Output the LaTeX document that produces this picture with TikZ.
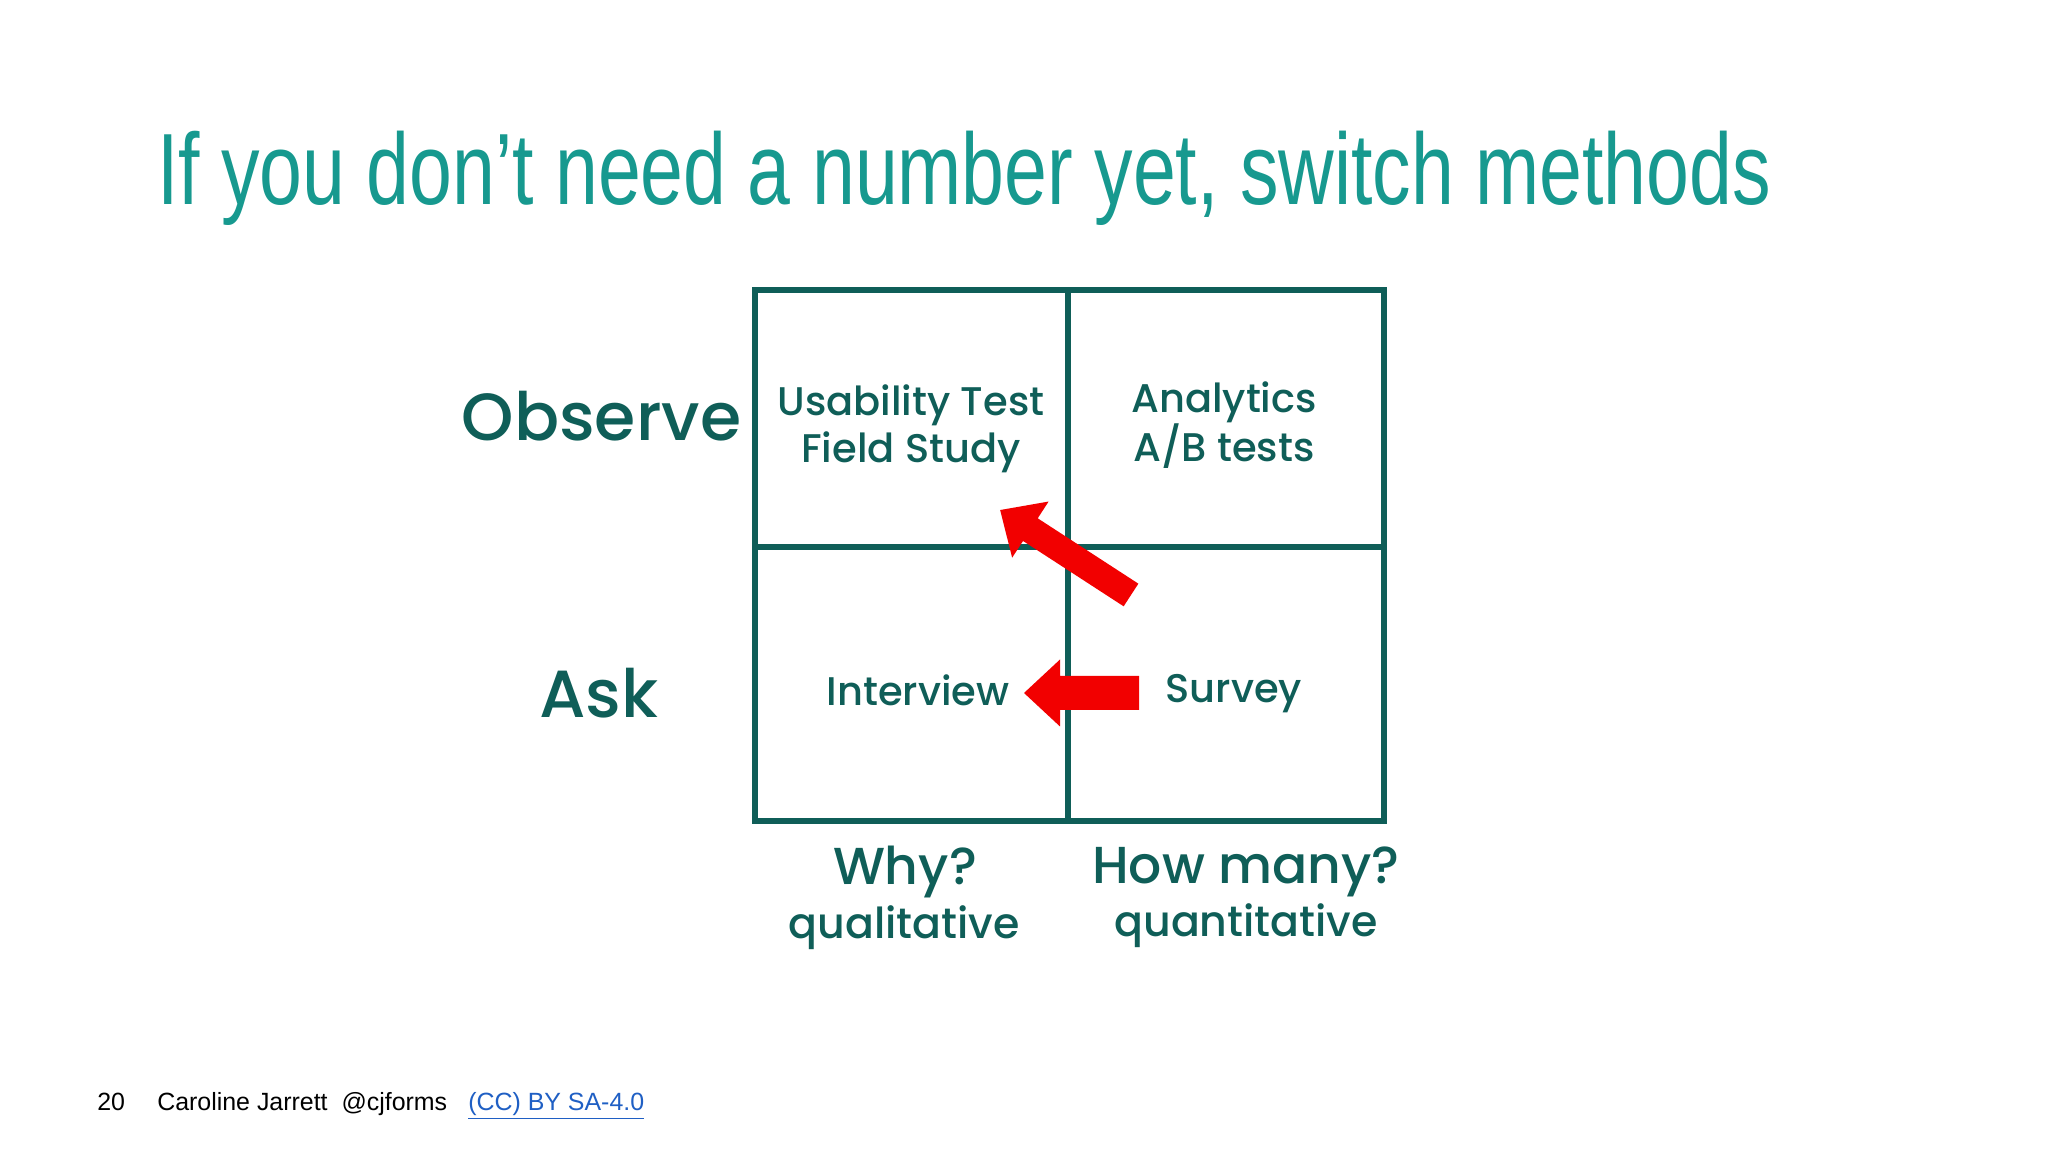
\documentclass[tikz,border=0pt]{standalone}
\usepackage{fontspec}
\setmainfont{Liberation Sans}
\newfontfamily\gotham{Poppins Medium}
\definecolor{titleteal}{HTML}{17998F}
\definecolor{darkteal}{HTML}{0F5E58}
\definecolor{linkblue}{HTML}{1F5FC4}
\definecolor{arrowred}{HTML}{F20000}
\tikzset{
  grid/.style={draw=darkteal,line width=4.5pt},
  celltext/.style={font=\gotham\fontsize{30}{35}\selectfont,text=darkteal,align=center,inner sep=0pt},
  rowlabel/.style={font=\gotham\fontsize{50}{56}\selectfont,text=darkteal,inner sep=0pt},
  collabel/.style={font=\gotham\fontsize{39}{44}\selectfont,text=darkteal,inner sep=0pt},
  subl/.style={font=\gotham\fontsize{32}{36}\selectfont,text=darkteal,inner sep=0pt},
  foot/.style={font=\fontsize{18.7}{20}\selectfont,inner sep=0pt,anchor=base west},
}
\newcommand{\blockarrow}[5]{% x y angle L shaftw
  \begin{scope}[shift={(#1,#2)},rotate=#3]
  \fill[arrowred] (0,-#5/2) -- (#4-36,-#5/2) -- (#4-36,-33.5) -- (#4,0) -- (#4-36,33.5) -- (#4-36,#5/2) -- (0,#5/2) -- cycle;
  \end{scope}}
\begin{document}
\begin{tikzpicture}[x=0.75pt,y=0.75pt]
\useasboundingbox (0,0) rectangle (2048,1152);
\fill[white] (0,0) rectangle (2048,1152);
\node[anchor=base west,inner sep=0pt,text=titleteal,font=\fontsize{76}{80}\selectfont,xscale=0.76] (title) at (157,947) {If you don’t need a number yet, switch methods};
% grid
\draw[grid] (754.5,862) rectangle (1383.5,331);
\draw[grid] (1068,862) -- (1068,331);
\draw[grid] (754.5,605) -- (1383.5,605);
\node[celltext] (ut) at (911,723) {Usability Test\\Field Study};
\node[celltext] (an) at (1224,727) {Analytics\\A/B tests};
\node[celltext] (iv) at (918,462) {Interview};
\node[celltext] (sv) at (1234,458) {Survey};
\node[rowlabel] (obs) at (601.5,736) {Observe};
\node[rowlabel] (ask) at (599,459) {Ask};
\node[collabel] (why) at (905,280) {Why?};
\node[subl] (ql) at (904,224) {qualitative};
\node[collabel] (how) at (1246,280) {How many?};
\node[subl] (qn) at (1246,226) {quantitative};
% arrows
\blockarrow{1131}{557}{147}{156}{27}
\blockarrow{1139}{459}{180}{115}{34}
% footer
\node[foot] (pg) at (97,41) {20};
\node[foot] (au) at (157,41) {Caroline Jarrett\ \ @cjforms};
\node[foot,text=linkblue] (lk) at (468,41) {\underline{(CC) BY SA-4.0}};
\end{tikzpicture}
\end{document}
